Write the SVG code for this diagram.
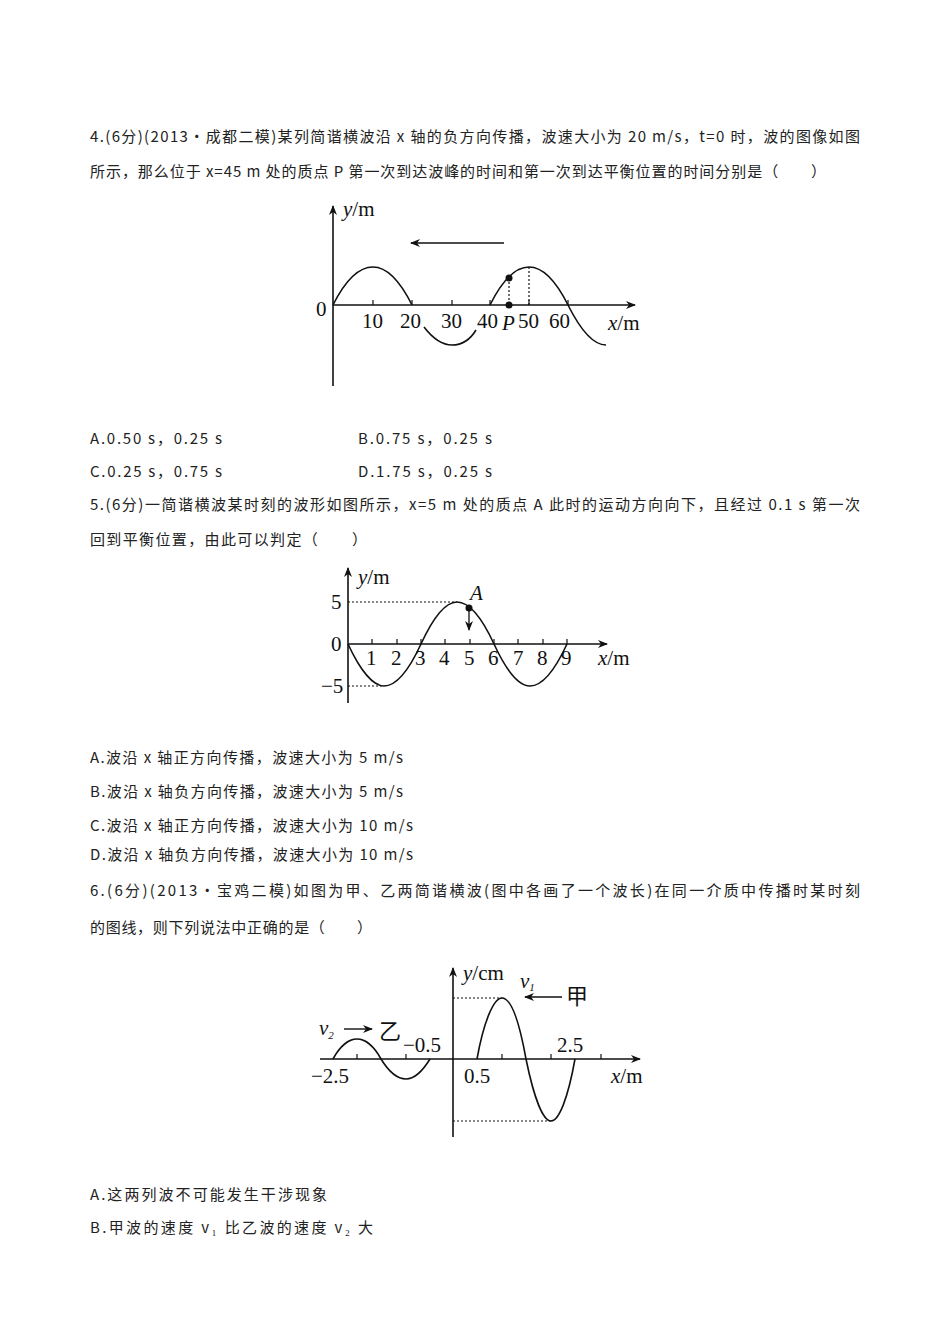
<svg xmlns="http://www.w3.org/2000/svg" width="950" height="1344" viewBox="0 0 950 1344">
<defs>
<style>
.t{font-family:"Noto Sans CJK SC","Noto Serif CJK SC","Liberation Serif",serif;font-size:15px;fill:#222}
.g{font-family:"Liberation Serif",serif;font-size:21px;fill:#111}
.i{font-style:italic}
.ax{stroke:#111;stroke-width:1.6;fill:none}
.w{stroke:#111;stroke-width:1.6;fill:none}
.d{stroke:#111;stroke-width:1.2;stroke-dasharray:2 2;fill:none}
</style>
<marker id="ah" markerWidth="10" markerHeight="8" refX="9" refY="4" orient="auto" markerUnits="userSpaceOnUse"><path d="M0,0 L10,4 L0,8 L3,4 Z" fill="#111"/></marker>
</defs>
<rect width="950" height="1344" fill="#fff"/>
<g id="text">
<text class="t" x="90" y="142" textLength="770" lengthAdjust="spacing">4.(6分)(2013·成都二模)某列简谐横波沿 x 轴的负方向传播，波速大小为 20 m/s，t=0 时，波的图像如图</text>
<text class="t" x="90" y="177" textLength="736" lengthAdjust="spacing">所示，那么位于 x=45 m 处的质点 P 第一次到达波峰的时间和第一次到达平衡位置的时间分别是（　　）</text>
<text class="t" x="90" y="444" textLength="132" lengthAdjust="spacing">A.0.50 s，0.25 s</text>
<text class="t" x="358" y="444" textLength="134" lengthAdjust="spacing">B.0.75 s，0.25 s</text>
<text class="t" x="90" y="477" textLength="132" lengthAdjust="spacing">C.0.25 s，0.75 s</text>
<text class="t" x="358" y="477" textLength="134" lengthAdjust="spacing">D.1.75 s，0.25 s</text>
<text class="t" x="90" y="510" textLength="770" lengthAdjust="spacing">5.(6分)一简谐横波某时刻的波形如图所示，x=5 m 处的质点 A 此时的运动方向向下，且经过 0.1 s 第一次</text>
<text class="t" x="90" y="545" textLength="277" lengthAdjust="spacing">回到平衡位置，由此可以判定（　　）</text>
<text class="t" x="90" y="763" textLength="313" lengthAdjust="spacing">A.波沿 x 轴正方向传播，波速大小为 5 m/s</text>
<text class="t" x="90" y="797" textLength="313" lengthAdjust="spacing">B.波沿 x 轴负方向传播，波速大小为 5 m/s</text>
<text class="t" x="90" y="831" textLength="323" lengthAdjust="spacing">C.波沿 x 轴正方向传播，波速大小为 10 m/s</text>
<text class="t" x="90" y="860" textLength="323" lengthAdjust="spacing">D.波沿 x 轴负方向传播，波速大小为 10 m/s</text>
<text class="t" x="90" y="896" textLength="770" lengthAdjust="spacing">6.(6分)(2013·宝鸡二模)如图为甲、乙两简谐横波(图中各画了一个波长)在同一介质中传播时某时刻</text>
<text class="t" x="90" y="933" textLength="282" lengthAdjust="spacing">的图线，则下列说法中正确的是（　　）</text>
<text class="t" x="90" y="1200" textLength="237" lengthAdjust="spacing">A.这两列波不可能发生干涉现象</text>
<text class="t" x="90" y="1233" textLength="283" lengthAdjust="spacing">B.甲波的速度 v₁ 比乙波的速度 v₂ 大</text>
</g>
<g id="fig1">
<line class="ax" x1="333" y1="386" x2="333" y2="206" marker-end="url(#ah)"/>
<line class="ax" x1="333" y1="305" x2="635" y2="305" marker-end="url(#ah)"/>
<g stroke="#111" stroke-width="1.2"><line x1="373" y1="305" x2="373" y2="300"/><line x1="412" y1="305" x2="412" y2="300"/><line x1="452" y1="305" x2="452" y2="300"/><line x1="490" y1="305" x2="490" y2="300"/><line x1="529" y1="305" x2="529" y2="300"/><line x1="568" y1="305" x2="568" y2="300"/></g>
<path class="w" d="M333,305 C346,279 360,267 373,267 C386,267 399,279 412,305"/>
<path class="w" d="M424,327 C434,340 443,345 452,345 C462,345 470,340 476,330"/>
<path class="w" d="M490,305 C503,279 516,267 529,267 C542,267 555,279 568,305 C581,331 594,345 606,345"/>
<line x1="504" y1="243" x2="411" y2="243" stroke="#111" stroke-width="1.6" marker-end="url(#ah)"/>
<line class="d" x1="509" y1="278" x2="509" y2="305"/>
<line class="d" x1="529" y1="267" x2="529" y2="305"/>
<circle cx="509" cy="278" r="3.5" fill="#111"/><circle cx="509" cy="305" r="3.5" fill="#111"/>
<text class="g" x="343" y="216"><tspan class="i">y</tspan>/m</text>
<text class="g" x="316" y="316">0</text>
<text class="g" x="362" y="328">10</text><text class="g" x="400" y="328">20</text><text class="g" x="441" y="328">30</text><text class="g" x="477" y="328">40</text>
<text class="g" x="502" y="330" font-style="italic">P</text><text class="g" x="518" y="328">50</text><text class="g" x="549" y="328">60</text>
<text class="g" x="608" y="330"><tspan class="i">x</tspan>/m</text>
</g>
<g id="fig2">
<line class="ax" x1="348" y1="703" x2="348" y2="568" marker-end="url(#ah)"/>
<line class="ax" x1="348" y1="644" x2="607" y2="644" marker-end="url(#ah)"/>
<g stroke="#111" stroke-width="1.2"><line x1="372" y1="644" x2="372" y2="639"/><line x1="397" y1="644" x2="397" y2="639"/><line x1="421" y1="644" x2="421" y2="639"/><line x1="445" y1="644" x2="445" y2="639"/><line x1="470" y1="644" x2="470" y2="639"/><line x1="494" y1="644" x2="494" y2="639"/><line x1="518" y1="644" x2="518" y2="639"/><line x1="543" y1="644" x2="543" y2="639"/><line x1="567" y1="644" x2="567" y2="639"/></g>
<path class="w" d="M348,644 C360,670 373,686 384,686 C396,686 409,670 421,644 C433,618 445,602 457,602 C469,602 482,618 494,644 C506,670 518,686 530,686 C543,686 555,670 567,644"/>
<line class="d" x1="348" y1="602" x2="457" y2="602"/>
<line class="d" x1="348" y1="686" x2="384" y2="686"/>
<circle cx="469" cy="608" r="3.5" fill="#111"/>
<line x1="469" y1="608" x2="469" y2="630" stroke="#111" stroke-width="1.3" marker-end="url(#ah)"/>
<text class="g" x="470" y="600" font-style="italic">A</text>
<text class="g" x="358" y="584"><tspan class="i">y</tspan>/m</text>
<text class="g" x="331" y="609">5</text><text class="g" x="331" y="651">0</text><text class="g" x="321" y="693">−5</text>
<text class="g" x="366" y="665">1</text><text class="g" x="391" y="665">2</text><text class="g" x="415" y="665">3</text><text class="g" x="439" y="665">4</text><text class="g" x="464" y="665">5</text><text class="g" x="488" y="665">6</text><text class="g" x="513" y="665">7</text><text class="g" x="537" y="665">8</text><text class="g" x="561" y="665">9</text>
<text class="g" x="598" y="665"><tspan class="i">x</tspan>/m</text>
</g>
<g id="fig3">
<line class="ax" x1="453" y1="1137" x2="453" y2="968" marker-end="url(#ah)"/>
<line class="ax" x1="320" y1="1059" x2="640" y2="1059" marker-end="url(#ah)"/>
<g stroke="#111" stroke-width="1.2"><line x1="357" y1="1059" x2="357" y2="1054"/><line x1="406" y1="1059" x2="406" y2="1054"/><line x1="502" y1="1059" x2="502" y2="1054"/><line x1="551" y1="1059" x2="551" y2="1054"/><line x1="601" y1="1059" x2="601" y2="1054"/></g>
<path class="w" d="M333,1059 C340,1046 349,1039 357,1039 C365,1039 374,1046 381,1059 C389,1072 398,1079 406,1079 C414,1079 422,1072 430,1059"/>
<path class="w" d="M477,1059 C484,1020 494,998 502,998 C511,998 519,1020 526,1059 C534,1098 543,1121 551,1121 C559,1121 568,1098 575,1059"/>
<line class="d" x1="453" y1="998" x2="502" y2="998"/>
<line class="d" x1="453" y1="1121" x2="551" y2="1121"/>
<line x1="562" y1="997" x2="525" y2="997" stroke="#111" stroke-width="1.4" marker-end="url(#ah)"/>
<line x1="344" y1="1029" x2="372" y2="1029" stroke="#111" stroke-width="1.4" marker-end="url(#ah)"/>
<text class="g" x="463" y="980"><tspan class="i">y</tspan>/cm</text>
<text class="g" x="520" y="988" font-style="italic" font-size="19">v<tspan font-size="11" dy="3">1</tspan></text>
<text x="566" y="1004" font-family="Noto Sans CJK SC,sans-serif" font-size="22" fill="#111">甲</text>
<text class="g" x="319" y="1035" font-style="italic" font-size="19">v<tspan font-size="11" dy="4">2</tspan></text>
<text x="379" y="1039" font-family="Noto Sans CJK SC,sans-serif" font-size="22" fill="#111">乙</text>
<text class="g" x="403" y="1052">−0.5</text>
<text class="g" x="557" y="1052">2.5</text>
<text class="g" x="311" y="1083">−2.5</text>
<text class="g" x="464" y="1083">0.5</text>
<text class="g" x="611" y="1083"><tspan class="i">x</tspan>/m</text>
</g>
</svg>
